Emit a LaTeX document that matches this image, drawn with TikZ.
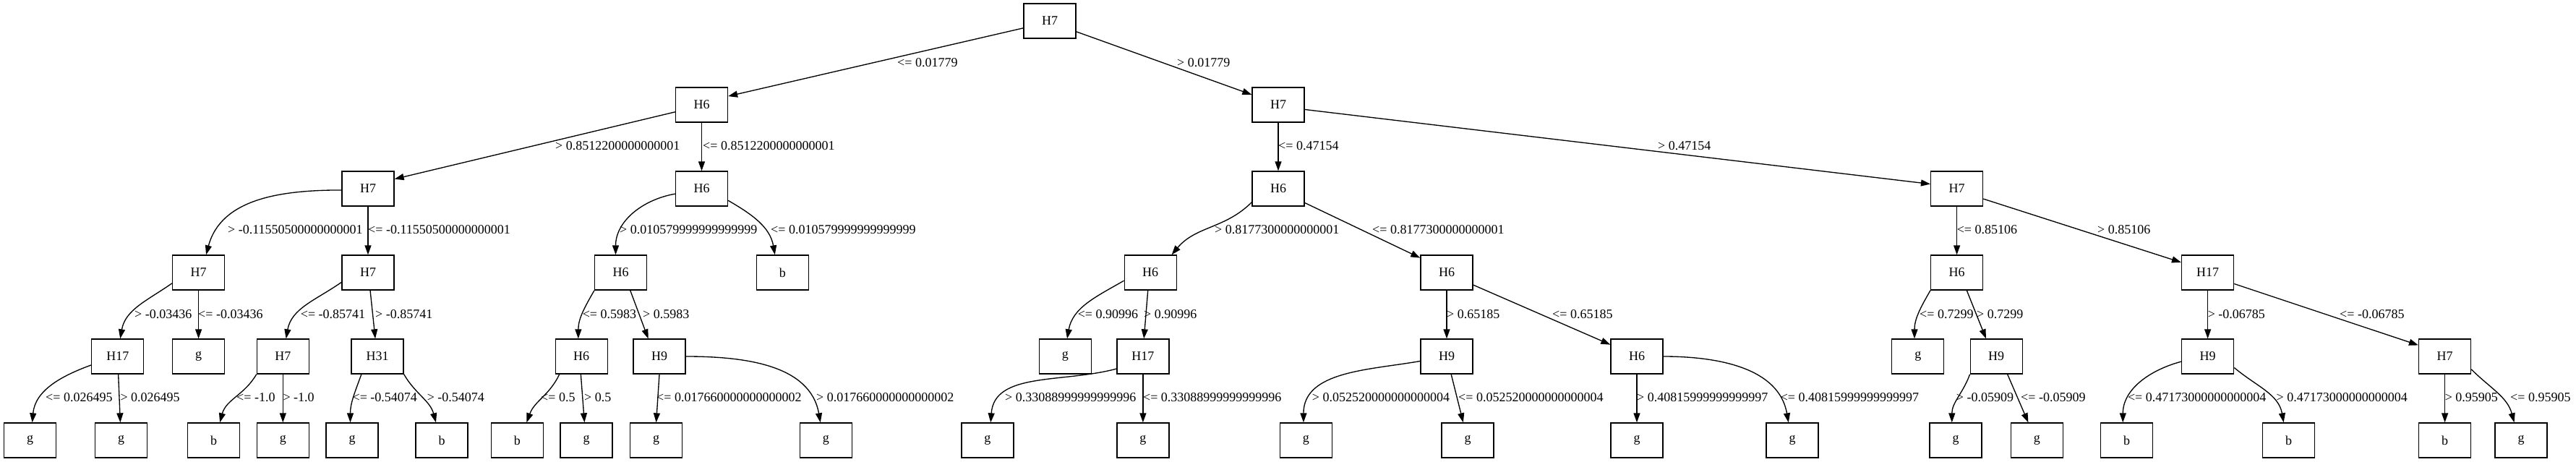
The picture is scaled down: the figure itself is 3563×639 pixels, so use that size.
\documentclass[tikz,border=0pt]{standalone}
\usepackage{fontspec}
\setmainfont{Liberation Serif}
\usetikzlibrary{arrows.meta}
\tikzset{
  box/.style={draw, line width=1.33pt, minimum width=72pt, minimum height=48pt, inner sep=0pt, font=\fontsize{18}{20}\selectfont},
  lbl/.style={anchor=west, inner sep=0pt, font=\fontsize{18}{20}\selectfont},
  edge/.style={-{Triangle[length=13pt,width=9pt]}, line width=1.33pt}
}
\begin{document}
\begin{tikzpicture}[x=1pt,y=1pt]
\useasboundingbox (0,0) rectangle (3563,-639);
% level 0
\node[box] (n0) at (1452,-29) {H7};
% level 1
\node[box] (nA) at (970.5,-145) {H6};
\node[box] (nB) at (1768,-145) {H7};
% level 2
\node[box] (nA1) at (509,-261) {H7};
\node[box] (nA2) at (970.5,-261) {H6};
\node[box] (nB1) at (1768,-261) {H6};
\node[box] (nB2) at (2706.6,-261) {H7};
% level 3
\node[box] (nA1a) at (274.6,-377) {H7};
\node[box] (nA1b) at (509,-377) {H7};
\node[box] (nA2a) at (858.6,-377) {H6};
\node[box] (nA2b) at (1082.3,-377) {b};
\node[box] (nB1a) at (1591.2,-377) {H6};
\node[box] (nB1b) at (2001,-377) {H6};
\node[box] (nB2a) at (2706.6,-377) {H6};
\node[box] (nB2b) at (3053.6,-377) {H17};
% level 4
\node[box] (p1) at (162.8,-493) {H17};
\node[box] (p2) at (274.6,-493) {g};
\node[box] (p3) at (391.3,-493) {H7};
\node[box] (p4) at (522.1,-493) {H31};
\node[box] (p5) at (804.2,-493) {H6};
\node[box] (p6) at (912,-493) {H9};
\node[box] (p7) at (1473.4,-493) {g};
\node[box] (p8) at (1580.9,-493) {H17};
\node[box] (p9) at (2001,-493) {H9};
\node[box] (p10) at (2264,-493) {H6};
\node[box] (p11) at (2652.8,-493) {g};
\node[box] (p12) at (2761.2,-493) {H9};
\node[box] (p13) at (3053.6,-493) {H9};
\node[box] (p14) at (3381.6,-493) {H7};
% level 5
\node[box] (q1) at (41.6,-609) {g};
\node[box] (q2) at (167.7,-609) {g};
\node[box] (q3) at (295.6,-609) {b};
\node[box] (q4) at (391.3,-609) {g};
\node[box] (q5) at (487.1,-609) {g};
\node[box] (q6) at (611,-609) {b};
\node[box] (q7) at (715.3,-609) {b};
\node[box] (q8) at (811,-609) {g};
\node[box] (q9) at (907.6,-609) {g};
\node[box] (q10) at (1142.3,-609) {g};
\node[box] (q11) at (1365.9,-609) {g};
\node[box] (q12) at (1580.9,-609) {g};
\node[box] (q13) at (1806.4,-609) {g};
\node[box] (q14) at (2030,-609) {g};
\node[box] (q15) at (2264,-609) {g};
\node[box] (q16) at (2479,-609) {g};
\node[box] (q17) at (2705,-609) {g};
\node[box] (q18) at (2817.4,-609) {g};
\node[box] (q19) at (2941.5,-609) {b};
\node[box] (q20) at (3165.7,-609) {b};
\node[box] (q21) at (3381.6,-609) {b};
\node[box] (q22) at (3487,-609) {g};

% edges level 0-1
\draw[edge] (n0.195) -- (nA.18);
\draw[edge] (n0.338) -- (nB.159);
% level 1-2
\draw[edge] (nA.195) -- (nA1.20);
\draw[edge] (nA.south) -- (nA2.north);
\draw[edge] (nB.south) -- (nB1.north);
\draw[edge] (nB.350) -- (nB2.170);
% level 2-3
\draw[edge] (nA1.183) to[out=180,in=75] (nA1a.67);
\draw[edge] (nA1.south) -- (nA1b.north);
\draw[edge] (nA2.191) to[out=190,in=90] (nA2a.106);
\draw[edge] (nA2.336) to[out=-30,in=100] (nA2b.113);
\draw[edge] (nB1.207) to[out=225,in=50] (nB1a.40);
\draw[edge] (nB1.332) -- (nB1b.151);
\draw[edge] (nB2.south) -- (nB2a.north);
\draw[edge] (nB2.339) -- (nB2b.159);
% level 3-4
\draw[edge] (nA1a.202) to[out=215,in=80] (p1.82);
\draw[edge] (nA1a.south) -- (p2.north);
\draw[edge] (nA1b.200) to[out=215,in=80] (p3.80);
\draw[edge] (nA1b.277) -- (p4.97);
\draw[edge] (nA2a.214) to[out=240,in=90] (p5.100);
\draw[edge] (nA2a.298) -- (p6.122);
\draw[edge] (nB1a.197) to[out=210,in=80] (p7.84);
\draw[edge] (nB1a.262) -- (p8.87);
\draw[edge] (nB1b.south) -- (p9.north);
\draw[edge] (nB1b.335) -- (p10.156);
\draw[edge] (nB2a.214) to[out=240,in=90] (p11.101);
\draw[edge] (nB2a.299) -- (p12.120);
\draw[edge] (nB2b.south) -- (p13.north);
\draw[edge] (nB2b.337) -- (p14.157);
% level 4-5
\draw[edge] (p1.198) to[out=200,in=85] (q1.83);
\draw[edge] (p1.272) -- (q2.93);
\draw[edge] (p3.214) to[out=240,in=75] (q3.71);
\draw[edge] (p3.south) -- (q4.north);
\draw[edge] (p4.228) to[out=250,in=90] (q5.96);
\draw[edge] (p4.326) to[out=-60,in=105] (q6.108);
\draw[edge] (p5.219) to[out=245,in=70] (q7.62);
\draw[edge] (p5.268) -- (q8.96);
\draw[edge] (p6.south) -- (q9.north);
\draw[edge] (p6.east) to[out=0,in=100] (q10.107);
\draw[edge] (p8.205) .. controls +(-75,-20) and +(5,70) .. (q11.80);
\draw[edge] (p8.south) -- (q12.north);
\draw[edge] (p9.190) to[out=190,in=90] (q13.98);
\draw[edge] (p9.284) -- (q14.104);
\draw[edge] (p10.south) -- (q15.north);
\draw[edge] (p10.east) to[out=0,in=100] (q16.102);
\draw[edge] (p12.214) to[out=250,in=90] (q17.102);
\draw[edge] (p12.302) -- (q18.116);
\draw[edge] (p13.191) to[out=195,in=90] (q19.102);
\draw[edge] (p13.337) to[out=-40,in=100] (q20.106);
\draw[edge] (p14.south) -- (q21.north);
\draw[edge] (p14.334) to[out=-45,in=105] (q22.111);

% labels level 1
\node[lbl] (t1) at (1241,-87) {<= 0.01779};
\node[lbl] (t2) at (1628,-87) {> 0.01779};
% labels level 2
\node[lbl] (t3) at (768,-202) {> 0.8512200000000001};
\node[lbl] (t4) at (972,-202) {<= 0.8512200000000001};
\node[lbl] (t5) at (1768,-202) {<= 0.47154};
\node[lbl] (t6) at (2293,-202) {> 0.47154};
% labels level 3
\node[lbl] (t7) at (315,-318) {> -0.11550500000000001};
\node[lbl] (t8) at (509,-318) {<= -0.11550500000000001};
\node[lbl] (t9) at (857,-318) {> 0.010579999999999999};
\node[lbl] (t10) at (1066,-318) {<= 0.010579999999999999};
\node[lbl] (t11) at (1680,-318) {> 0.8177300000000001};
\node[lbl] (t12) at (1898,-318) {<= 0.8177300000000001};
\node[lbl] (t13) at (2706.6,-318) {<= 0.85106};
\node[lbl] (t14) at (2901,-318) {> 0.85106};
% labels level 4
\node[lbl] (t15) at (186,-435) {> -0.03436};
\node[lbl] (t16) at (274,-435) {<= -0.03436};
\node[lbl] (t17) at (415.7,-435) {<= -0.85741};
\node[lbl] (t18) at (519,-435) {> -0.85741};
\node[lbl] (t19) at (805.6,-435) {<= 0.5983};
\node[lbl] (t20) at (889,-435) {> 0.5983};
\node[lbl] (t21) at (1490.6,-435) {<= 0.90996};
\node[lbl] (t22) at (1582,-435) {> 0.90996};
\node[lbl] (t23) at (2001,-435) {> 0.65185};
\node[lbl] (t24) at (2147,-435) {<= 0.65185};
\node[lbl] (t25) at (2655,-435) {<= 0.7299};
\node[lbl] (t26) at (2734,-435) {> 0.7299};
\node[lbl] (t27) at (3053.6,-435) {> -0.06785};
\node[lbl] (t28) at (3236,-435) {<= -0.06785};
% labels level 5
\node[lbl] (t29) at (63,-550) {<= 0.026495};
\node[lbl] (t30) at (166.3,-550) {> 0.026495};
\node[lbl] (t31) at (327,-550) {<= -1.0};
\node[lbl] (t32) at (391.3,-550) {> -1.0};
\node[lbl] (t33) at (487.4,-550) {<= -0.54074};
\node[lbl] (t34) at (590.6,-550) {> -0.54074};
\node[lbl] (t35) at (748,-550) {<= 0.5};
\node[lbl] (t36) at (808,-550) {> 0.5};
\node[lbl] (t37) at (908,-550) {<= 0.017660000000000002};
\node[lbl] (t38) at (1129,-550) {> 0.017660000000000002};
\node[lbl] (t39) at (1390,-550) {> 0.33088999999999996};
\node[lbl] (t40) at (1580.9,-550) {<= 0.33088999999999996};
\node[lbl] (t41) at (1814.7,-550) {> 0.052520000000000004};
\node[lbl] (t42) at (2017,-550) {<= 0.052520000000000004};
\node[lbl] (t43) at (2264,-550) {> 0.40815999999999997};
\node[lbl] (t44) at (2462.6,-550) {<= 0.40815999999999997};
\node[lbl] (t45) at (2705.7,-550) {> -0.05909};
\node[lbl] (t46) at (2795,-550) {<= -0.05909};
\node[lbl] (t47) at (2942.8,-550) {<= 0.47173000000000004};
\node[lbl] (t48) at (3148.5,-550) {> 0.47173000000000004};
\node[lbl] (t49) at (3381.6,-550) {> 0.95905};
\node[lbl] (t50) at (3472,-550) {<= 0.95905};
\end{tikzpicture}
\end{document}
